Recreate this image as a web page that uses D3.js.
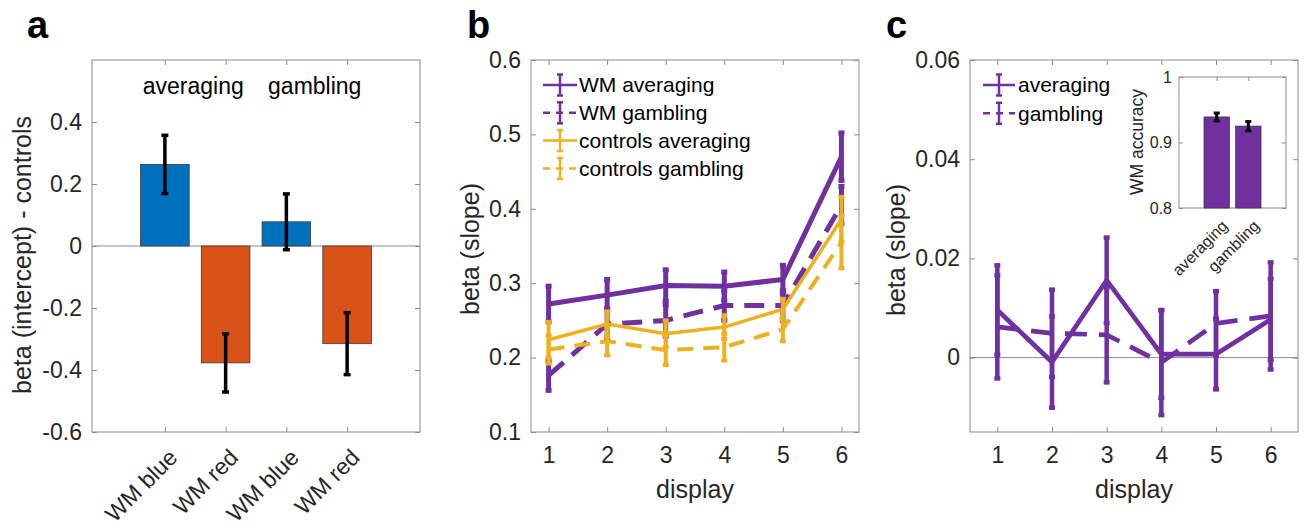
<!DOCTYPE html>
<html><head><meta charset="utf-8">
<script src="https://cdn.jsdelivr.net/npm/d3@7"></script>
<style>body{margin:0;background:#fff} text{font-family:"Liberation Sans",Arial,Helvetica,sans-serif}</style>
</head><body><svg id="c" width="1306" height="528"></svg>
<script>
// ---------- Panel a data ----------
const aCategories = ["WM blue","WM red","WM blue","WM red"];
const aGroups = ["averaging","gambling"];
const aValues = [0.263,-0.377,0.078,-0.315];
const aErrors = [0.094,0.094,0.090,0.100];
const aYTicks = [-0.6,-0.4,-0.2,0,0.2,0.4];
const aYLabel = "beta (intercept) - controls";
// ---------- Panel b data ----------
const displays = [1,2,3,4,5,6];
const bWMAveraging = [0.272,0.284,0.297,0.296,0.305,0.470];
const bWMAveragingErr = [0.024,0.021,0.021,0.019,0.019,0.032];
const bWMGambling = [0.176,0.245,0.250,0.270,0.270,0.405];
const bWMGamblingErr = [0.020,0.021,0.021,0.020,0.020,0.025];
const bCtrlAveraging = [0.224,0.245,0.232,0.241,0.265,0.386];
const bCtrlAveragingErr = [0.024,0.017,0.018,0.016,0.014,0.030];
const bCtrlGambling = [0.211,0.222,0.210,0.214,0.238,0.355];
const bCtrlGamblingErr = [0.019,0.019,0.020,0.018,0.016,0.035];
const bYTicks = [0.1,0.2,0.3,0.4,0.5,0.6];
const bSeriesNames = ["WM averaging","WM gambling","controls averaging","controls gambling"];
// ---------- Panel c data ----------
const cAveraging = [0.0096,-0.0009,0.0156,0.0007,0.0007,0.0077];
const cAveragingErr = [0.0090,0.0092,0.0086,0.0088,0.0071,0.0082];
const cGambling = [0.0062,0.0049,0.0046,-0.0010,0.0069,0.0084];
const cGamblingErr = [0.0104,0.0088,0.0096,0.0106,0.0065,0.0108];
const cYTicks = [0,0.02,0.04,0.06];
const cSeriesNames = ["averaging","gambling"];
// ---------- Inset data ----------
const insetCategories = ["averaging","gambling"];
const insetValues = [0.939,0.925];
const insetErrors = [0.006,0.007];
const insetYTicks = [0.8,0.9,1];

const svg = d3.select("#c");
const TXT = "#262626", AX = "#8c8c8c";
const PURPLE = "#7030A0", YELLOW = "#EDB120", BLUE = "#0072BD", RED = "#D95319";

function fmt(v){ return v===0 ? "0" : String(+v.toFixed(3)); }

function frame(x, y, xTicks, yTicks, o) {
  const g = svg.append("g");
  const [l, r] = x.range(), [b, t] = y.range();
  const tl = o.tickLen || 5;
  const yl = g.append("g").attr("transform",`translate(${l},0)`)
    .call(d3.axisLeft(y).tickValues(yTicks).tickSize(-tl).tickSizeOuter(0).tickPadding(o.yPad||10).tickFormat(o.yFmt||fmt));
  g.append("g").attr("transform",`translate(${r},0)`)
    .call(d3.axisRight(y).tickValues(yTicks).tickSize(-tl).tickSizeOuter(0).tickFormat(""));
  const xb = g.append("g").attr("transform",`translate(0,${b})`)
    .call(d3.axisBottom(x).tickValues(xTicks).tickSize(-tl).tickSizeOuter(0).tickPadding(o.xPad||15).tickFormat(o.xFmt||(d=>d)));
  g.append("g").attr("transform",`translate(0,${t})`)
    .call(d3.axisTop(x).tickValues(xTicks).tickSize(-tl).tickSizeOuter(0).tickFormat(""));
  g.selectAll(".domain").attr("stroke","none");
  g.selectAll(".tick line").attr("stroke",AX).attr("stroke-width",1);
  g.selectAll("text").attr("fill",TXT).attr("font-size",o.fs||23).attr("font-family",'"Liberation Sans",Arial,sans-serif');
  svg.append("rect").attr("x",l).attr("y",t).attr("width",r-l).attr("height",b-t)
    .attr("fill","none").attr("stroke",AX).attr("stroke-width",1);
  return g;
}

function errbar(g, cx, y, v, e, color, w, cap) {
  g.append("line").attr("x1",cx).attr("x2",cx).attr("y1",y(v-e)).attr("y2",y(v+e))
    .attr("stroke",color).attr("stroke-width",w);
  [v-e, v+e].forEach(p => g.append("line").attr("x1",cx-cap).attr("x2",cx+cap).attr("y1",y(p)).attr("y2",y(p))
    .attr("stroke",color).attr("stroke-width",w));
}

function ylabel(x, y, txt, fs) {
  svg.append("text").attr("transform",`translate(${x},${y}) rotate(-90)`).attr("text-anchor","middle")
    .attr("font-size",fs).attr("fill",TXT).text(txt);
}
function panelLabel(x, y, t) {
  svg.append("text").attr("x",x).attr("y",y).attr("font-size",38).attr("font-weight","bold").attr("fill","#000").text(t);
}

// ================= Panel a =================
{
  const x = d3.scaleLinear().domain([0.8,6.2]).range([92,420]);
  const y = d3.scaleLinear().domain([-0.6,0.6]).range([432,60]);
  const pos = aCategories.map((_,i)=>i+2);
  frame(x, y, pos, aYTicks, {xFmt:()=>""});
  // zero line
  svg.append("line").attr("x1",92).attr("x2",420).attr("y1",y(0)).attr("y2",y(0)).attr("stroke",AX).attr("stroke-width",1);
  const g = svg.append("g");
  const bw = 0.8;
  g.selectAll("rect.bar").data(aValues).enter().append("rect")
    .attr("x",(d,i)=>x(pos[i]-bw/2)).attr("width",x(pos[0]+bw/2)-x(pos[0]-bw/2))
    .attr("y",d=>y(Math.max(0,d))).attr("height",d=>Math.abs(y(d)-y(0)))
    .attr("fill",(d,i)=>i%2===0?BLUE:RED).attr("stroke","#3a3a3a").attr("stroke-width",0.8);
  aValues.forEach((v,i)=>errbar(g, x(pos[i]), y, v, aErrors[i], "#000", 3.5, 3.5));
  aCategories.forEach((t,i)=>{
    svg.append("text").attr("transform",`translate(${x(pos[i])+14},459) rotate(-45)`)
      .attr("text-anchor","end").attr("font-size",23).attr("fill",TXT).text(t);
  });
  aGroups.forEach((t,k)=>{
    svg.append("text").attr("x",x((pos[2*k]+pos[2*k+1])/2)-2).attr("y",94).attr("text-anchor","middle")
      .attr("font-size",23).attr("fill","#000").text(t);
  });
  ylabel(31, 255, aYLabel, 25);
  panelLabel(27, 38, "a");
}

// ================= Panel b =================
{
  const x = d3.scaleLinear().domain([0.7,6.3]).range([531,859]);
  const y = d3.scaleLinear().domain([0.1,0.6]).range([432,60]);
  frame(x, y, displays, bYTicks, {});
  const series = [
    {v:bWMAveraging, e:bWMAveragingErr, c:PURPLE, w:5, dash:null},
    {v:bWMGambling, e:bWMGamblingErr, c:PURPLE, w:5, dash:"20,11"},
    {v:bCtrlAveraging, e:bCtrlAveragingErr, c:YELLOW, w:3.5, dash:null},
    {v:bCtrlGambling, e:bCtrlGamblingErr, c:YELLOW, w:4, dash:"16,10"}
  ];
  const g = svg.append("g");
  const line = d3.line().x((d,i)=>x(displays[i])).y(d=>y(d));
  series.forEach(s=>{
    g.append("path").attr("d",line(s.v)).attr("fill","none").attr("stroke",s.c).attr("stroke-width",s.w)
      .attr("stroke-dasharray",s.dash);
    s.v.forEach((v,i)=>errbar(g, x(displays[i]), y, v, s.e[i], s.c, s.w>=5?5:4, 3));
  });
  // legend
  const lg = svg.append("g");
  series.forEach((s,k)=>{
    const ly = 85 + k*27.8;
    lg.append("line").attr("x1",543).attr("x2",577).attr("y1",ly).attr("y2",ly).attr("stroke",s.c)
      .attr("stroke-width",2.5).attr("stroke-dasharray",s.dash?"7,6":null);
    lg.append("line").attr("x1",560).attr("x2",560).attr("y1",ly-10.5).attr("y2",ly+10.5).attr("stroke",s.c).attr("stroke-width",2.5);
    [ly-10.5, ly+10.5].forEach(p=>lg.append("line").attr("x1",557).attr("x2",563).attr("y1",p).attr("y2",p).attr("stroke",s.c).attr("stroke-width",2.5));
    lg.append("text").attr("x",579).attr("y",ly).attr("dy","0.35em").attr("font-size",21).attr("fill","#000").text(bSeriesNames[k]);
  });
  svg.append("text").attr("x",695).attr("y",498).attr("text-anchor","middle").attr("font-size",25).attr("fill",TXT).text("display");
  ylabel(479, 249, "beta (slope)", 25);
  panelLabel(467, 38, "b");
}

// ================= Panel c =================
{
  const x = d3.scaleLinear().domain([0.5,6.5]).range([970,1298]);
  const y = d3.scaleLinear().domain([-0.015,0.06]).range([432,60]);
  frame(x, y, displays, cYTicks, {});
  svg.append("line").attr("x1",970).attr("x2",1298).attr("y1",y(0)).attr("y2",y(0)).attr("stroke",AX).attr("stroke-width",1);
  const series = [
    {v:cAveraging, e:cAveragingErr, dash:null},
    {v:cGambling, e:cGamblingErr, dash:"22,12"}
  ];
  const g = svg.append("g");
  const line = d3.line().x((d,i)=>x(displays[i])).y(d=>y(d));
  series.forEach(s=>{
    g.append("path").attr("d",line(s.v)).attr("fill","none").attr("stroke",PURPLE).attr("stroke-width",4.7)
      .attr("stroke-dasharray",s.dash);
    s.v.forEach((v,i)=>errbar(g, x(displays[i]), y, v, s.e[i], PURPLE, 4.5, 3));
  });
  const lg = svg.append("g");
  series.forEach((s,k)=>{
    const ly = 85 + k*28.3;
    lg.append("line").attr("x1",983).attr("x2",1015).attr("y1",ly).attr("y2",ly).attr("stroke",PURPLE)
      .attr("stroke-width",2.5).attr("stroke-dasharray",s.dash?"7,6":null);
    lg.append("line").attr("x1",999).attr("x2",999).attr("y1",ly-10.5).attr("y2",ly+10.5).attr("stroke",PURPLE).attr("stroke-width",2.5);
    [ly-10.5, ly+10.5].forEach(p=>lg.append("line").attr("x1",996).attr("x2",1002).attr("y1",p).attr("y2",p).attr("stroke",PURPLE).attr("stroke-width",2.5));
    lg.append("text").attr("x",1018).attr("y",ly).attr("dy","0.35em").attr("font-size",21).attr("fill","#000").text(cSeriesNames[k]);
  });
  svg.append("text").attr("x",1134).attr("y",498).attr("text-anchor","middle").attr("font-size",25).attr("fill",TXT).text("display");
  ylabel(905, 250, "beta (slope)", 25);
  panelLabel(886, 38, "c");

  // ----- inset -----
  const xi = d3.scaleLinear().domain([-0.19,3.19]).range([1179,1286]);
  const yi = d3.scaleLinear().domain([0.8,1.0]).range([208,77]);
  const ipos = insetCategories.map((_,i)=>i+1);
  svg.append("rect").attr("x",1179).attr("y",77).attr("width",107).attr("height",131).attr("fill","#fff");
  frame(xi, yi, ipos, insetYTicks, {xFmt:()=>"", fs:16, yPad:7, tickLen:4});
  const gi = svg.append("g");
  gi.selectAll("rect").data(insetValues).enter().append("rect")
    .attr("x",(d,i)=>xi(ipos[i]-0.4)).attr("width",xi(1.4)-xi(0.6))
    .attr("y",d=>yi(d)).attr("height",d=>yi(0.8)-yi(d))
    .attr("fill",PURPLE).attr("stroke","#3a3a3a").attr("stroke-width",0.8);
  insetValues.forEach((v,i)=>errbar(gi, xi(ipos[i]), yi, v, insetErrors[i], "#000", 3, 3));
  insetCategories.forEach((t,i)=>{
    svg.append("text").attr("transform",`translate(${xi(ipos[i])+12},227) rotate(-45)`)
      .attr("text-anchor","end").attr("font-size",16).attr("fill",TXT).text(t);
  });
  ylabel(1143, 142, "WM accuracy", 17.5);
}
</script></body></html>
